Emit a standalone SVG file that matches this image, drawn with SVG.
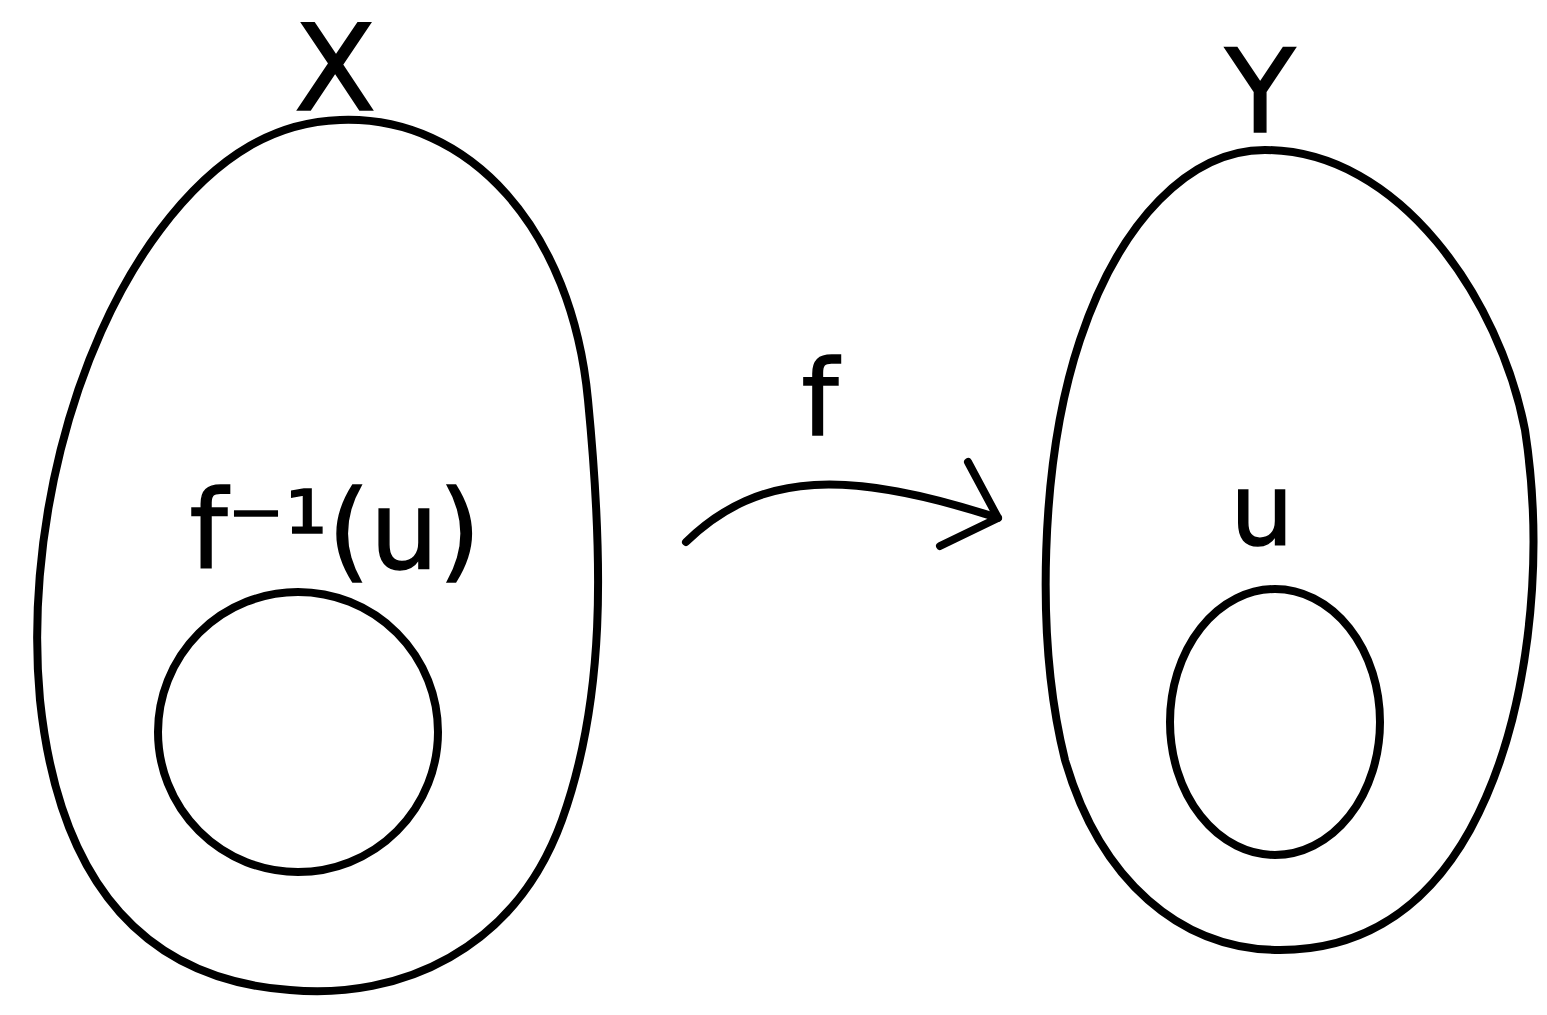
<svg xmlns="http://www.w3.org/2000/svg" width="1547" height="1015" viewBox="0 0 1547 1015">
<style>
.s{fill:none;stroke:#000;stroke-width:8;stroke-linecap:round;stroke-linejoin:round}
.t{font-family:"DejaVu Sans",sans-serif;fill:#000;stroke:#000;stroke-width:1.5;text-anchor:middle}
</style>
<rect width="1547" height="1015" fill="#fff"/>
<g id="X">
<path class="s" d="M 340,120 C 470,115 572,230 588,400 C 604,565 605,700 562,820 C 515,950 400,1000 290,990 C 150,980 60,890 40,700 C 25,540 70,350 160,230 C 220,150 280,122 340,120 Z"/>
<text class="t" x="335" y="110" font-size="120">X</text>
</g>
<g id="preimage">
<circle class="s" cx="298" cy="732" r="140"/>
<text class="t" x="335" y="568" font-size="108">f⁻¹(u)</text>
</g>
<g id="Y">
<path class="s" d="M 1265,150 C 1400,150 1500,300 1525,430 C 1545,560 1530,720 1470,830 C 1420,920 1350,950 1280,950 C 1180,950 1100,880 1065,760 C 1035,640 1040,460 1080,340 C 1120,220 1190,150 1265,150 Z"/>
<text class="t" x="1260" y="132" font-size="115">Y</text>
</g>
<g id="U">
<ellipse class="s" cx="1275" cy="722" rx="105" ry="133"/>
<text class="t" x="1262" y="545" font-size="100">u</text>
</g>
<g id="connectors">
<path class="s" d="M 686,542 C 760,470 850,470 998,518"/>
<path class="s" d="M 968,462 L 998,518 L 940,546"/>
<text class="t" x="820" y="435" font-size="105">f</text>
</g>
</svg>
